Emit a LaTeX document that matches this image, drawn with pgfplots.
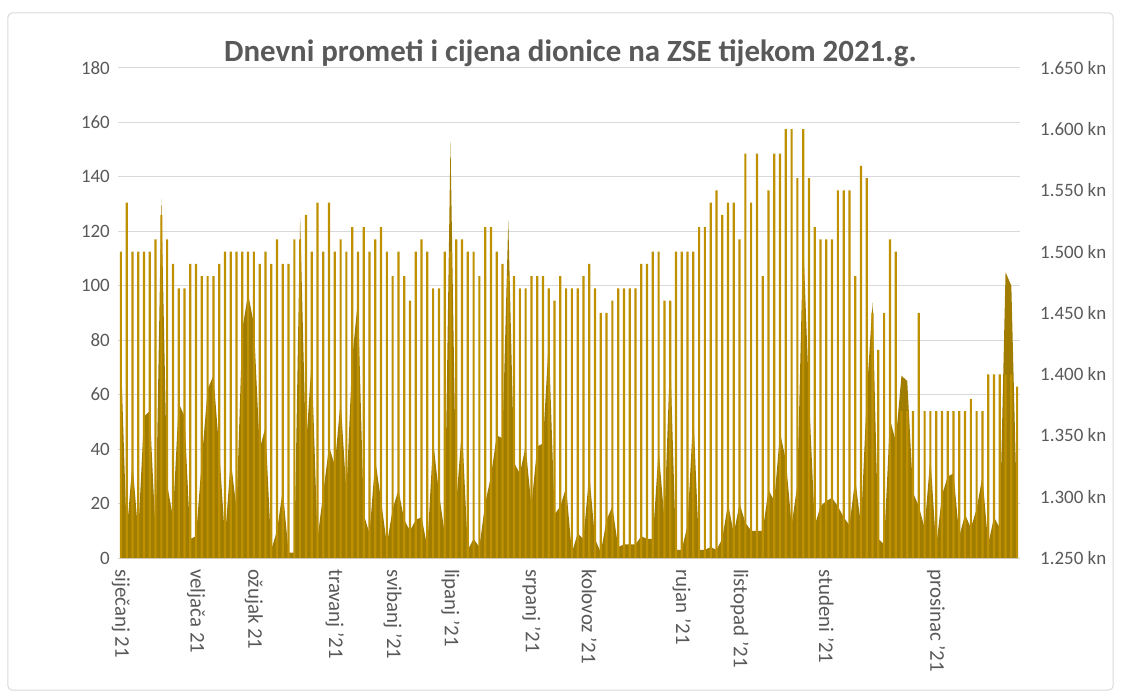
\documentclass[border=0pt]{standalone}
\usepackage{fontspec}
\setmainfont{Carlito}
\usepackage{pgfplots}
\pgfplotsset{compat=1.18}
\usepackage{pgfplotstable}

\definecolor{barc}{HTML}{BF9000}
\definecolor{areac}{HTML}{A07C00}
\definecolor{gridc}{HTML}{D9D9D9}
\definecolor{txt}{HTML}{595959}

% i = trading day, price in kn (right axis), turnover (left axis)
\pgfplotstableread{
i price turnover
0 1500 75
1 1540 9
2 1500 35
3 1500 9
4 1500 52
5 1500 54
6 1510 9
7 1530 132
8 1510 27
9 1490 15
10 1470 57
11 1470 52
12 1490 7
13 1490 8
14 1480 36
15 1480 62
16 1480 67
17 1490 40
18 1500 7
19 1500 36
20 1500 18
21 1500 84
22 1500 97
23 1500 86
24 1490 40
25 1500 48
26 1490 3
27 1510 10
28 1490 25
29 1490 2
30 1510 2
31 1510 125
32 1530 40
33 1500 73
34 1540 7
35 1500 24
36 1540 41
37 1500 34
38 1510 58
39 1500 24
40 1520 73
41 1500 95
42 1520 16
43 1500 9
44 1510 36
45 1520 21
46 1500 5
47 1480 18
48 1500 25
49 1480 14
50 1460 10
51 1500 14
52 1510 15
53 1500 4
54 1470 43
55 1470 24
56 1500 9
57 1500 153
58 1510 20
59 1510 48
60 1500 3
61 1500 7
62 1480 4
63 1520 20
64 1520 30
65 1500 45
66 1490 44
67 1480 124
68 1480 35
69 1470 31
70 1470 41
71 1480 19
72 1480 41
73 1480 42
74 1470 80
75 1460 16
76 1480 19
77 1470 26
78 1470 2
79 1470 9
80 1480 7
81 1490 31
82 1470 7
83 1450 2
84 1450 14
85 1460 19
86 1470 4
87 1470 5
88 1470 5
89 1470 5
90 1490 8
91 1490 7
92 1500 7
93 1500 40
94 1460 14
95 1460 75
96 1500 3
97 1500 3
98 1500 12
99 1500 53
100 1520 3
101 1520 3
102 1540 4
103 1550 3
104 1530 7
105 1540 20
106 1540 9
107 1510 20
108 1580 13
109 1540 10
110 1580 10
111 1480 10
112 1550 25
113 1580 21
114 1580 46
115 1600 36
116 1600 12
117 1560 27
118 1600 117
119 1560 60
120 1520 12
121 1510 19
122 1510 21
123 1510 22
124 1550 19
125 1550 15
126 1550 12
127 1480 29
128 1570 12
129 1560 60
130 1450 94
131 1420 7
132 1450 5
133 1510 51
134 1500 43
135 1370 67
136 1370 65
137 1370 24
138 1450 19
139 1370 11
140 1370 37
141 1370 4
142 1370 23
143 1370 30
144 1370 31
145 1370 8
146 1370 16
147 1380 11
148 1370 18
149 1370 30
150 1400 5
151 1400 15
152 1400 11
153 1400 105
154 1400 100
155 1390 15
}\data

\begin{document}
\begin{tikzpicture}
\pgfplotsset{base/.style={
  scale only axis, width=902bp, height=490bp,
  xmin=-0.5, xmax=155.5,
  axis line style={draw=none},
  major tick length=0pt,
  tick label style={font=\fontsize{19}{22}\selectfont, text=txt},
  /pgf/number format/assume math mode=true,
}}
\begin{axis}[base,
  ymin=0, ymax=180, ytick={0,20,...,180},
  ymajorgrids, grid style={gridc, line width=1bp},
  yticklabel style={anchor=east, inner sep=0pt, xshift=-8bp},
  xtick={0,13,23,37,47,57,71,81,97,107,122,141},
  xticklabels={siječanj 21, veljača 21, ožujak 21, travanj '21, svibanj '21, lipanj '21, srpanj '21, kolovoz '21, rujan '21, listopad '21, studeni '21, prosinac '21},
  xticklabel style={font=\fontsize{21}{24}\selectfont, text=txt, yshift=-11bp, rotate=-90, anchor=west, inner sep=0pt},
]
\addplot[fill=areac, draw=none] table[x=i, y=turnover] {\data} \closedcycle;
\coordinate (pll) at (rel axis cs:0,0);
\coordinate (ptop) at (rel axis cs:0.5,1);
\end{axis}
\begin{axis}[base,
  ymin=1250, ymax=1650, ytick={1250,1300,...,1650},
  yticklabels={1.250 kn,1.300 kn,1.350 kn,1.400 kn,1.450 kn,1.500 kn,1.550 kn,1.600 kn,1.650 kn},
  axis y line*=right, axis x line=none,
  yticklabel style={anchor=west, inner sep=0pt, xshift=20bp},
  ybar, bar width=0.38,
]
\addplot[fill=barc, draw=none] table[x=i, y=price] {\data};
\end{axis}
\node[anchor=base, text=txt, font=\fontsize{31}{36}\selectfont\bfseries] at ([xshift=1.5bp, yshift=6bp]ptop) {Dnevni prometi i cijena dionice na ZSE tijekom 2021.g.};
\draw[gridc, line width=1bp, rounded corners=4bp] (pll) ++(-110bp,-132bp) rectangle ++(1105bp,677bp);
\path[use as bounding box] (pll) ++(-118bp,-140bp) rectangle ++(1131bp,698bp);
\end{tikzpicture}
\end{document}
